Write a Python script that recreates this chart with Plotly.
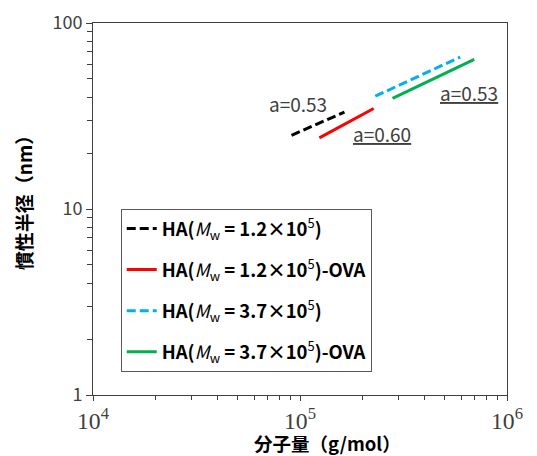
import math
import plotly.graph_objects as go

# Data
names = [
    "<b>HA(</b><i>M</i><sub>w</sub> <b>= 1.2×10</b><sup>5</sup><b>)</b>",
    "<b>HA(</b><i>M</i><sub>w</sub> <b>= 1.2×10</b><sup>5</sup><b>)-OVA</b>",
    "<b>HA(</b><i>M</i><sub>w</sub> <b>= 3.7×10</b><sup>5</sup><b>)</b>",
    "<b>HA(</b><i>M</i><sub>w</sub> <b>= 3.7×10</b><sup>5</sup><b>)-OVA</b>",
]
x_black = [9.1e4, 1.64e5]
y_black = [24.9, 33.2]
x_red = [1.24e5, 2.27e5]
y_red = [24.1, 34.7]
x_blue = [2.31e5, 5.94e5]
y_blue = [40.4, 65.6]
x_green = [2.8e5, 6.95e5]
y_green = [39.3, 63.8]

label_text = ["a=0.53", "<u>a=0.60</u>", "<u>a=0.53</u>"]
label_x = [9.8e4, 2.5e5, 6.55e5]
label_y = [37.0, 25.5, 42.4]

x_title = "<b>分子量（g/mol）</b>"
y_title = "<b>慣性半径（nm）</b>"

series = [
    (x_black, y_black, "#000000", "9px,4px"),
    (x_red, y_red, "#ff0000", "solid"),
    (x_blue, y_blue, "#00b0f0", "9px,4px"),
    (x_green, y_green, "#00b050", "solid"),
]

fig = go.Figure()
for i, (xs, ys, c, d) in enumerate(series):
    fig.add_trace(go.Scatter(x=xs, y=ys, mode="lines", name=names[i],
                             line=dict(color=c, width=3, dash=d),
                             legendgroup=f"g{i}"))

for t, lx, ly in zip(label_text, label_x, label_y):
    fig.add_annotation(x=math.log10(lx), y=math.log10(ly), xref="x", yref="y",
                       text=t, showarrow=False,
                       font=dict(family="Noto Sans CJK JP", size=19, color="#404040"),
                       xanchor="center", yanchor="middle")

title_font = dict(family="Noto Sans CJK JP", size=19, color="#000000")
fig.add_annotation(x=0.567, y=-0.13, xref="paper", yref="paper", text=x_title,
                   showarrow=False, font=dict(family="Noto Sans CJK JP", size=18.5, color="#000000"),
                   xanchor="center", yanchor="middle", borderpad=0)
fig.add_annotation(x=-0.168, y=0.53, xref="paper", yref="paper", text=y_title,
                   showarrow=False, font=title_font, textangle=-90,
                   xanchor="center", yanchor="middle")

# the page body adds an 8px offset, so the figure is sized to fit the window
fig.update_layout(
    width=529, height=448,
    margin=dict(l=85, r=30, t=15, b=61, autoexpand=False),
    paper_bgcolor="white", plot_bgcolor="white",
    showlegend=True,
    legend=dict(x=0.067, y=0.5, xanchor="left", yanchor="top",
                bordercolor="#595959", borderwidth=1, bgcolor="white",
                font=dict(family="Noto Sans CJK JP", size=18.5, color="#000000"),
                tracegroupgap=14, traceorder="grouped", itemwidth=30),
)
fig.update_xaxes(type="log", range=[4, 6], dtick=1, exponentformat="power",
                 automargin=False,
                 showgrid=False, showline=True, linecolor="#404040", linewidth=1,
                 mirror=True, ticks="outside", ticklen=5, tickcolor="#404040",
                 minor=dict(ticks="outside", ticklen=4, tickcolor="#404040",
                            dtick="D1", showgrid=False),
                 tickfont=dict(family="Liberation Serif", size=19, color="#404040"))
fig.update_yaxes(type="log", range=[0, 2], dtick=1,
                 automargin=False,
                 showgrid=False, showline=True, linecolor="#404040", linewidth=1,
                 mirror=True, ticks="outside", ticklen=6, tickcolor="#404040",
                 minor=dict(ticks="outside", ticklen=5, tickcolor="#404040",
                            dtick="D1", showgrid=False),
                 tickfont=dict(family="Noto Sans CJK JP", size=18, color="#404040"))

fig.write_html("out.html")
